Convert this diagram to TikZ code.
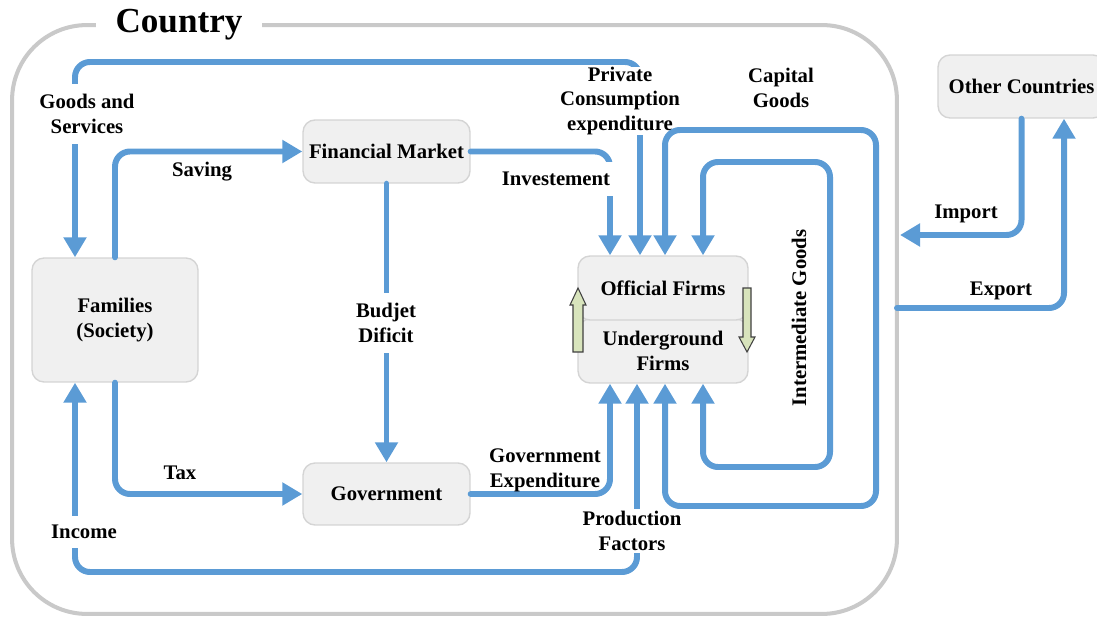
\documentclass[tikz,border=0pt]{standalone}
\usepackage{fontspec}
\setmainfont{Liberation Serif}
\usetikzlibrary{arrows.meta}
\definecolor{flowblue}{HTML}{5B9BD5}
\definecolor{framegray}{HTML}{C9C9C9}
\definecolor{boxfill}{HTML}{F0F0F0}
\definecolor{boxline}{HTML}{D4D4D4}
\definecolor{garrowfill}{HTML}{D8E4BC}
\begin{document}
\begin{tikzpicture}[x=0.02cm,y=-0.02cm,
  font=\fontsize{11.8}{14.2}\selectfont\bfseries,
  box/.style={draw=boxline, line width=0.8pt, fill=boxfill, rounded corners=0.24cm, align=center, inner sep=0pt},
  flow/.style={draw=flowblue, line width=3.4pt, rounded corners=0.3cm, line cap=round, >={Triangle[width=0.44cm,length=0.4cm]}},
  lbl/.style={align=center, inner sep=1pt},
  cut/.style={lbl, fill=white, inner sep=3pt},
  greenarrow/.style={draw=black!75, line width=0.6pt, fill=garrowfill}]
\useasboundingbox (0,0) rectangle (1097,621);
% country frame
\node[draw=framegray, line width=2.3pt, rounded corners=1.5cm, minimum width=17.7cm, minimum height=11.78cm, inner sep=0pt] (country) at (454.5,319.5) {};
\node[fill=white, inner xsep=0.4cm, inner ysep=0pt, font=\fontsize{20}{24}\selectfont\bfseries] (title) at (179,25) {Country};
% boxes
\node[box, minimum width=3.32cm, minimum height=2.48cm] (fam) at (115,320) {Families\\(Society)};
\node[box, minimum width=3.34cm, minimum height=1.26cm] (fin) at (386.5,151.5) {Financial Market};
\node[box, minimum width=3.34cm, minimum height=1.24cm] (gov) at (386.5,494) {Government};
\node[box, minimum width=3.4cm, minimum height=1.28cm] (und) at (663,351) {Underground\\Firms};
\node[box, minimum width=3.4cm, minimum height=1.28cm] (off) at (663,288) {Official Firms};
\node[box, minimum width=3.34cm, minimum height=1.26cm] (oth) at (1021.5,86.5) {Other Countries};
\coordinate (imp) at (900,235);
\coordinate (exp) at (897,308);
% goods and services / private consumption
\draw[flow,<->] (640,0 |- off.north) -- (640,62) -- (75,62) -- (75,0 |- fam.north);
\node[cut, inner ysep=6pt] at (87,114) {Goods and\\Services};
\node[cut, inner sep=0pt] at (620,101) {Private\\Consumption\\expenditure};
% saving
\draw[flow,->] (fam.north) |- (fin.west);
\node[lbl] at (202,172) {Saving};
% investment
\draw[flow,->] (fin.east) -| (610,0 |- off.north);
\node[cut, inner xsep=7pt, inner ysep=6pt] at (556,179) {Investement};
% budget deficit
\draw[flow,->] (fin.south) -- (gov.north);
\node[cut, inner ysep=6pt] at (386,323) {Budjet\\Dificit};
% tax
\draw[flow,->] (fam.south) |- (gov.west);
\node[lbl] at (180,473) {Tax};
% government expenditure
\draw[flow,->] (gov.east) -| (610,0 |- und.south);
\node[lbl] at (545,470) {Government\\Expenditure};
% income / production factors
\draw[flow,<->] (637,0 |- und.south) -- (637,572) -- (75,572) -- (75,0 |- fam.south);
\node[cut, inner sep=1pt] at (632,531) {Production\\Factors};
\node[cut, inner ysep=5pt] at (84,532) {Income};
% capital goods
\draw[flow,<->] (665,0 |- off.north) -- (665,130) -- (876,130) -- (876,506) -- (665,506) -- (665,0 |- und.south);
\node[lbl] at (781,88) {Capital\\Goods};
% intermediate goods
\draw[flow,<->] (703,0 |- off.north) -- (703,162) -- (830,162) -- (830,467) -- (703,467) -- (703,0 |- und.south);
\node[lbl, rotate=90] at (799,318) {Intermediate Goods};
% import / export
\draw[flow,->] (oth.south) |- (imp);
\node[lbl] at (966,214) {Import};
\draw[flow,->] (exp) -| (1064,0 |- oth.south);
\node[lbl] at (1001,291) {Export};
% official <-> underground arrows
\draw[greenarrow] (573,352) -- (573,305) -- (570,305) -- (578,288) -- (586,305) -- (583,305) -- (583,352) -- cycle;
\draw[greenarrow] (743,288) -- (743,337) -- (739,337) -- (747,352) -- (755,337) -- (751,337) -- (751,288) -- cycle;
\end{tikzpicture}
\end{document}
